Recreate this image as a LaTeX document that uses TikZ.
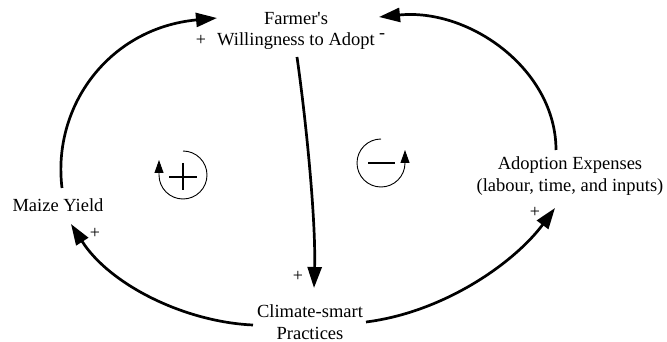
\documentclass[tikz,border=0pt]{standalone}
\usepackage{fontspec}
\setmainfont{Liberation Serif}[Ligatures=TeXOff]
\usetikzlibrary{arrows.meta}
\begin{document}
\begin{tikzpicture}[x=1pt,y=-1pt,
  var/.style={align=center,font=\fontsize{18.5}{21.5}\selectfont,inner sep=0pt},
  link/.style={line width=2.7pt,-{Triangle[length=21pt,width=14pt]}},
  pol/.style={font=\fontsize{18}{18}\selectfont,inner sep=0pt},
  loopline/.style={line width=0.9pt,-{Triangle[length=13pt,width=9pt]}}]
\useasboundingbox (0,0) rectangle (667,342);
\node[var] (fw) at (296,31) {Farmer's\\Willingness to Adopt};
\node[var] (my) at (58,205) {Maize Yield};
\node[var] (ae) at (570,176) {Adoption Expenses\\(labour, time, and inputs)};
\node[var] (cs) at (310,322) {Climate-smart\\Practices};
\coordinate (a1s) at (62,188);
\coordinate (a1e) at (217,18);
\coordinate (a2s) at (297,57);
\coordinate (a2e) at (314,288);
\coordinate (a3s) at (253,325);
\coordinate (a3e) at (71,224);
\coordinate (a4s) at (366,322);
\coordinate (a4e) at (555,208);
\coordinate (a5s) at (556,150);
\coordinate (a5e) at (379,17);
\draw[link] (a1s) .. controls (52,105) and (110,28) .. (a1e);
\draw[link] (a2s) .. controls (306,120) and (316,220) .. (a2e);
\draw[link] (a3s) .. controls (185,322) and (110,285) .. (a3e);
\draw[link] (a4s) .. controls (445,312) and (515,262) .. (a4e);
\draw[link] (a5s) .. controls (556,70) and (470,8) .. (a5e);
\node[pol] (p1) at (201,40) {+};
\node[pol] (p2) at (382,36) {-};
\node[pol] (p3) at (298,276) {+};
\node[pol] (p4) at (95,233) {+};
\node[pol] (p5) at (535,212) {+};
% reinforcing loop
\coordinate (rl) at (183,175);
\draw[loopline] (183,151) arc[start angle=-90,end angle=180,radius=24] -- (159,160);
\draw[line width=1.2pt] (169,177) -- (197,177) (183,163) -- (183,190);
% balancing loop
\coordinate (bl) at (381,163);
\draw[loopline] (381,139) arc[start angle=-90,end angle=-360,radius=24] -- (405,150);
\draw[line width=1.6pt] (368,163) -- (395,163);
\end{tikzpicture}
\end{document}
